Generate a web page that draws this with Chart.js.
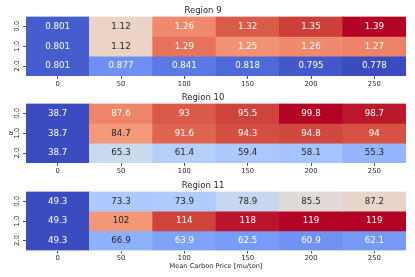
<!DOCTYPE html>
<html><head><meta charset="utf-8">
<script src="https://cdn.jsdelivr.net/npm/chart.js@4.4.1/dist/chart.umd.min.js"></script>
<style>
html,body{margin:0;padding:0;background:#fff;}
#wrap{position:relative;width:415px;height:277px;overflow:hidden;background:#fff;}
canvas{position:absolute;left:0;}
</style></head><body>
<div id="wrap">
<canvas id="c9" width="415" height="90" style="top:0px"></canvas>
<canvas id="c10" width="415" height="90" style="top:87px"></canvas>
<canvas id="c11" width="415" height="102" style="top:175px"></canvas>
</div>
<script>
// ---- data ----
const prices = ['0', '50', '100', '150', '200', '250'];
const alphas = ['0.0', '1.0', '2.0'];
const region9 = [
  [0.801, 1.12, 1.26, 1.32, 1.35, 1.39],
  [0.801, 1.12, 1.29, 1.25, 1.26, 1.27],
  [0.801, 0.877, 0.841, 0.818, 0.795, 0.778]
];
const region10 = [
  [38.7, 87.6, 93, 95.5, 99.8, 98.7],
  [38.7, 84.7, 91.6, 94.3, 94.8, 94],
  [38.7, 65.3, 61.4, 59.4, 58.1, 55.3]
];
const region11 = [
  [49.3, 73.3, 73.9, 78.9, 85.5, 87.2],
  [49.3, 102, 114, 118, 119, 119],
  [49.3, 66.9, 63.9, 62.5, 60.9, 62.1]
];
const regionTitles = ['Region 9', 'Region 10', 'Region 11'];
const xTitle = 'Mean Carbon Price [mu/ton]';
const yTitle = 'α';

// ---- coolwarm colormap ----
const CW = [
  [59,76,192],[68,90,204],[77,104,215],[87,117,225],[98,130,234],[108,142,241],[119,154,247],[130,165,251],
  [141,176,254],[152,185,255],[163,194,255],[174,201,253],[184,208,249],[194,213,244],[204,217,238],[213,219,230],
  [221,221,221],[229,216,209],[236,211,197],[241,204,185],[245,196,173],[247,187,160],[247,177,148],[247,166,135],
  [244,154,123],[241,141,111],[236,127,99],[229,112,88],[222,96,77],[213,80,66],[203,62,56],[192,40,47],[180,4,38]
];
function coolwarm(t) {
  t = Math.max(0, Math.min(1, t));
  const p = t * (CW.length - 1);
  const i = Math.min(CW.length - 2, Math.floor(p));
  const f = p - i;
  return CW[i].map((c, k) => Math.round(c + (CW[i + 1][k] - c) * f));
}
function lum(rgb) {
  const l = rgb.map(c => { c /= 255; return c <= 0.03928 ? c / 12.92 : Math.pow((c + 0.055) / 1.055, 2.4); });
  return 0.2126 * l[0] + 0.7152 * l[1] + 0.0722 * l[2];
}

const FONT = '"DejaVu Sans", sans-serif';
const DARK = '#262626';

const cellLabels = {
  id: 'cellLabels',
  afterDatasetsDraw(chart) {
    const ctx = chart.ctx;
    ctx.save();
    ctx.font = '8.7px "DejaVu Sans"';
    ctx.textAlign = 'center';
    ctx.textBaseline = 'middle';
    chart.data.datasets.forEach((ds, di) => {
      chart.getDatasetMeta(di).data.forEach((el, i) => {
        ctx.fillStyle = lum(ds.rgb[i]) > 0.408 ? DARK : '#ffffff';
        ctx.fillText(String(ds.values[i]), el.x, (el.y + el.base) / 2);
      });
    });
    ctx.restore();
  }
};

function makeChart(id, title, values, showY, showX) {
  const flat = values.flat();
  const vmin = Math.min(...flat), vmax = Math.max(...flat);
  const datasets = values.map((row, r) => {
    const rgb = row.map(v => coolwarm((v - vmin) / (vmax - vmin)));
    return {
      data: row.map(() => [r, r + 1]),
      values: row,
      rgb: rgb,
      backgroundColor: rgb.map(c => `rgb(${c[0]},${c[1]},${c[2]})`),
      borderWidth: 0,
      barPercentage: 1,
      categoryPercentage: 1,
      grouped: false
    };
  });
  return new Chart(document.getElementById(id), {
    type: 'bar',
    data: { labels: prices, datasets },
    options: {
      responsive: false,
      animation: false,
      devicePixelRatio: 1,
      layout: { padding: { left: 0, right: 9, top: 0, bottom: 0 } },
      plugins: {
        legend: { display: false },
        tooltip: { enabled: false },
        title: {
          display: true, text: title, color: DARK,
          font: { family: FONT, size: 8.5, weight: 'normal' },
          padding: { top: 5.4, bottom: 0.9 }
        }
      },
      scales: {
        x: {
          type: 'category',
          offset: true,
          grid: { offset: false, drawOnChartArea: false, drawTicks: true, tickLength: 3, tickWidth: 0.8, tickColor: DARK },
          border: { display: false },
          ticks: { color: DARK, font: { family: FONT, size: 6.8 }, padding: 1, maxRotation: 0, autoSkip: false },
          title: { display: showX, text: xTitle, color: DARK, font: { family: FONT, size: 6.6 }, padding: { top: 0, bottom: 7 } },
          afterFit(s) { s.height = showX ? 26.5 : 14; }
        },
        y: {
          type: 'linear',
          min: 0, max: 3,
          reverse: true,
          afterBuildTicks(s) { s.ticks = alphas.map((_, i) => ({ value: i + 0.5 })); },
          ticks: {
            callback: (v, i) => alphas[i],
            color: DARK, font: { family: FONT, size: 6.8 },
            minRotation: 90, maxRotation: 90, crossAlign: 'center', padding: 0
          },
          grid: { drawOnChartArea: false, drawTicks: true, tickLength: 3, tickWidth: 0.8, tickColor: DARK },
          border: { display: false },
          title: { display: showY, text: yTitle, color: DARK, font: { family: FONT, size: 7 }, padding: { top: 7, bottom: 0 } },
          afterFit(s) { s.width = 26; }
        }
      }
    },
    plugins: [cellLabels]
  });
}

makeChart('c9', regionTitles[0], region9, false, false);
makeChart('c10', regionTitles[1], region10, true, false);
makeChart('c11', regionTitles[2], region11, false, true);
</script>
</body></html>
